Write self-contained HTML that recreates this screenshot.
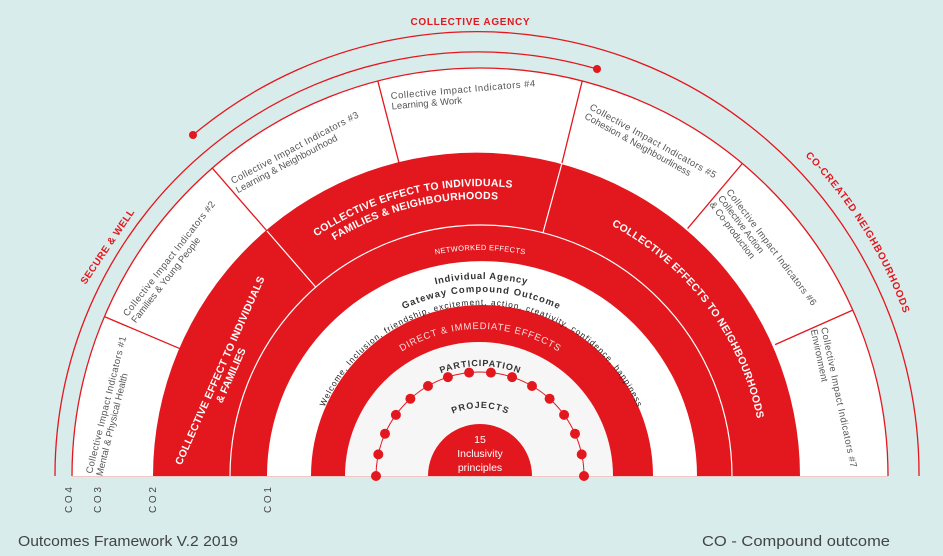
<!DOCTYPE html>
<html><head><meta charset="utf-8"><style>
html,body{margin:0;padding:0;background:#d9ecec;overflow:hidden;}
svg{display:block;}
text{font-family:"Liberation Sans",sans-serif;}
</style></head><body>
<svg width="943" height="556" viewBox="0 0 943 556" xmlns="http://www.w3.org/2000/svg">
<defs>
<path id="pTop1" d="M293.6,253.9 A290,290 0 0 1 540.3,192.4"/>
<path id="pTop2" d="M301.9,263.8 A277,277 0 0 1 537.6,205.1"/>
<path id="pRight" d="M576.8,210.1 A283,283 0 0 1 762.3,456.2"/>
<path id="pCoCr" d="M759.8,114.9 A443,443 0 0 1 920.3,371.9"/>
<path id="pNet" d="M367,280.3 A226,226 0 0 1 593,280.3"/>
<path id="pInd" d="M284,476 A197,197 0 0 1 678,476"/>
<path id="pGate" d="M297,476 A184,184 0 0 1 665,476"/>
<path id="pWel" d="M310,476 A171,171 0 0 1 652,476"/>
<path id="pDir" d="M333,476 A147,147 0 0 1 627,476"/>
<path id="pPart" d="M370,476 A110,110 0 0 1 590,476"/>
<path id="pProj" d="M412,476 A68,68 0 0 1 548,476"/>
</defs>
<rect width="943" height="556" fill="#d9ecec"/>

<!-- arc A: from left dot over top to right bottom -->
<path d="M193,135 A442,442 0 0 1 919,476" fill="none" stroke="#e3171e" stroke-width="1.3"/>
<!-- arc B: from left bottom to right dot -->
<path d="M55,476 A423,423 0 0 1 597,69" fill="none" stroke="#e3171e" stroke-width="1.3"/>
<circle cx="193" cy="135" r="4" fill="#e3171e"/>
<circle cx="597" cy="69" r="4" fill="#e3171e"/>

<!-- panels -->
<path d="M72,476 A408,408 0 0 1 888,476 Z" fill="#fff"/>
<path d="M72,476 A408,408 0 0 1 888,476" fill="none" stroke="#e3171e" stroke-width="1.3"/>
<line x1="72" y1="476.5" x2="888" y2="476.5" stroke="#f3c6c6" stroke-width="1"/>

<!-- outer red ring -->
<path d="M153,476 A323.5,323.5 0 0 1 800,476 Z" fill="#e3171e"/>
<g stroke="#e3171e" stroke-width="1.3">
<line x1="182.7" y1="349.8" x2="104.4" y2="316.6"/>
<line x1="267" y1="231" x2="212.3" y2="168.1"/>
<line x1="399.1" y1="163.3" x2="377.8" y2="81"/>
<line x1="562" y1="163" x2="582.2" y2="81"/>
<line x1="687.6" y1="228.6" x2="742.3" y2="163.5"/>
<line x1="775.1" y1="344.6" x2="852.7" y2="310.1"/>
</g>
<path d="M230,476 A251,251 0 0 1 732,476" fill="none" stroke="#fff" stroke-width="1.2"/>
<g stroke="#fff" stroke-width="1.2">
<line x1="267" y1="231" x2="315.3" y2="286.6"/>
<line x1="562" y1="163" x2="542.9" y2="233"/>
</g>

<path d="M267,476 A215,215 0 0 1 697,476 Z" fill="#fff"/>
<path d="M311,476 A171,171 0 0 1 653,476 Z" fill="#e3171e"/>
<path d="M345,476 A134,134 0 0 1 613,476 Z" fill="#f6f6f6"/>

<!-- dots -->
<path d="M376,476 A104,104 0 0 1 584,476" fill="none" stroke="#e3171e" stroke-width="1"/>
<g fill="#e3171e">
<circle cx="376" cy="476" r="5"/><circle cx="378.3" cy="454.4" r="5"/><circle cx="385" cy="433.7" r="5"/><circle cx="395.9" cy="414.9" r="5"/><circle cx="410.4" cy="398.7" r="5"/><circle cx="428" cy="386" r="5"/><circle cx="447.9" cy="377.1" r="5"/><circle cx="469.1" cy="372.6" r="5"/><circle cx="490.9" cy="372.6" r="5"/><circle cx="512.1" cy="377.1" r="5"/><circle cx="532" cy="386" r="5"/><circle cx="549.6" cy="398.7" r="5"/><circle cx="564.1" cy="414.9" r="5"/><circle cx="575" cy="433.7" r="5"/><circle cx="581.7" cy="454.4" r="5"/><circle cx="584" cy="476" r="5"/>
</g>
<path d="M428,476 A52,52 0 0 1 532,476 Z" fill="#e3171e"/>
<g fill="#fff" font-size="10.5" text-anchor="middle">
<text x="480" y="443">15</text>
<text x="480" y="457">Inclusivity</text>
<text x="480" y="471">principles</text>
</g>

<!-- top labels -->
<text x="470" y="25" text-anchor="middle" font-size="10" font-weight="bold" fill="#e3171e" textLength="119" lengthAdjust="spacing">COLLECTIVE AGENCY</text>
<text transform="translate(108,247) rotate(-56)" text-anchor="middle" dominant-baseline="central" font-size="10" font-weight="bold" fill="#e3171e" textLength="88" lengthAdjust="spacing">SECURE &amp; WELL</text>
<text font-size="10" font-weight="bold" fill="#e3171e"><textPath href="#pCoCr" startOffset="50%" text-anchor="middle" textLength="187" lengthAdjust="spacing">CO-CREATED NEIGHBOURHOODS</textPath></text>

<!-- panel texts -->
<g font-size="9.5" fill="#555">
<text transform="translate(92,474) rotate(-76)"><tspan x="0" y="0" textLength="141" lengthAdjust="spacing">Collective Impact Indicators #1</tspan><tspan x="0" y="10.5">Mental &amp; Physical Health</tspan></text>
<text transform="translate(127.5,317) rotate(-52)"><tspan x="0" y="0" textLength="143" lengthAdjust="spacing">Collective Impact Indicators #2</tspan><tspan x="0" y="10.5">Families &amp; Young People</tspan></text>
<text transform="translate(233,184) rotate(-28)"><tspan x="0" y="0" textLength="143" lengthAdjust="spacing">Collective Impact Indicators #3</tspan><tspan x="0" y="10.5">Learning &amp; Neighbourhood</tspan></text>
<text transform="translate(391,99) rotate(-5)"><tspan x="0" y="0" textLength="145" lengthAdjust="spacing">Collective Impact Indicators #4</tspan><tspan x="0" y="10.5">Learning &amp; Work</tspan></text>
<text transform="translate(589,109) rotate(29)"><tspan x="0" y="0" textLength="143" lengthAdjust="spacing">Collective Impact Indicators #5</tspan><tspan x="0" y="10.5">Cohesion &amp; Neighbourliness</tspan></text>
<text transform="translate(726,192) rotate(53)"><tspan x="0" y="0" textLength="143" lengthAdjust="spacing">Collective Impact Indicators #6</tspan><tspan x="0" y="10.5">Collective Action</tspan><tspan x="0" y="21">&amp; Co-production</tspan></text>
<text transform="translate(821,328) rotate(78)"><tspan x="0" y="0" textLength="143" lengthAdjust="spacing">Collective Impact Indicators #7</tspan><tspan x="0" y="10.5">Environment</tspan></text>
</g>

<!-- red band labels -->
<g fill="#fff" font-size="10.5" font-weight="bold">
<text transform="translate(223,372) rotate(-66)" text-anchor="middle"><tspan x="0" y="0" textLength="205" lengthAdjust="spacing">COLLECTIVE EFFECT TO INDIVIDUALS</tspan><tspan x="0" y="12">&amp; FAMILIES</tspan></text>
<text><textPath href="#pTop1" startOffset="50%" text-anchor="middle" textLength="206" lengthAdjust="spacing">COLLECTIVE EFFECT TO INDIVIDUALS</textPath></text>
<text><textPath href="#pTop2" startOffset="50%" text-anchor="middle" textLength="171" lengthAdjust="spacing">FAMILIES &amp; NEIGHBOURHOODS</textPath></text>
<text><textPath href="#pRight" startOffset="50%" text-anchor="middle" textLength="250" lengthAdjust="spacing">COLLECTIVE EFFECTS TO NEIGHBOURHOODS</textPath></text>
</g>
<text font-size="7.5" fill="#fff"><textPath href="#pNet" startOffset="50%" text-anchor="middle" textLength="90" lengthAdjust="spacing">NETWORKED EFFECTS</textPath></text>

<!-- white band -->
<g fill="#333">
<text font-size="9.5" font-weight="bold"><textPath href="#pInd" startOffset="50%" text-anchor="middle" textLength="92" lengthAdjust="spacing">Individual Agency</textPath></text>
<text font-size="9.5" font-weight="bold"><textPath href="#pGate" startOffset="50%" text-anchor="middle" textLength="160" lengthAdjust="spacing">Gateway Compound Outcome</textPath></text>
<text font-size="8.3" fill="#222"><textPath href="#pWel" startOffset="50%" text-anchor="middle" textLength="395" lengthAdjust="spacing">Welcome, Inclusion, friendship, excitement, action, creativity, confidence, happiness</textPath></text>
</g>
<text font-size="9.5" fill="#ffdcdc"><textPath href="#pDir" startOffset="50%" text-anchor="middle" textLength="165" lengthAdjust="spacing">DIRECT &amp; IMMEDIATE EFFECTS</textPath></text>
<text font-size="9" font-weight="bold" fill="#333"><textPath href="#pPart" startOffset="50%" text-anchor="middle" textLength="80" lengthAdjust="spacing">PARTICIPATION</textPath></text>
<text font-size="9" font-weight="bold" fill="#333"><textPath href="#pProj" startOffset="50%" text-anchor="middle" textLength="56" lengthAdjust="spacing">PROJECTS</textPath></text>

<!-- CO labels -->
<g font-size="10" fill="#444">
<text transform="translate(72,513) rotate(-90)" textLength="26" lengthAdjust="spacing">CO4</text>
<text transform="translate(101,513) rotate(-90)" textLength="26" lengthAdjust="spacing">CO3</text>
<text transform="translate(156,513) rotate(-90)" textLength="26" lengthAdjust="spacing">CO2</text>
<text transform="translate(271,513) rotate(-90)" textLength="26" lengthAdjust="spacing">CO1</text>
</g>
<text x="18" y="546" font-size="15" fill="#444" textLength="220" lengthAdjust="spacingAndGlyphs">Outcomes Framework V.2 2019</text>
<text x="702" y="546" font-size="15" fill="#444" textLength="188" lengthAdjust="spacingAndGlyphs">CO - Compound outcome</text>
</svg>
</body></html>
